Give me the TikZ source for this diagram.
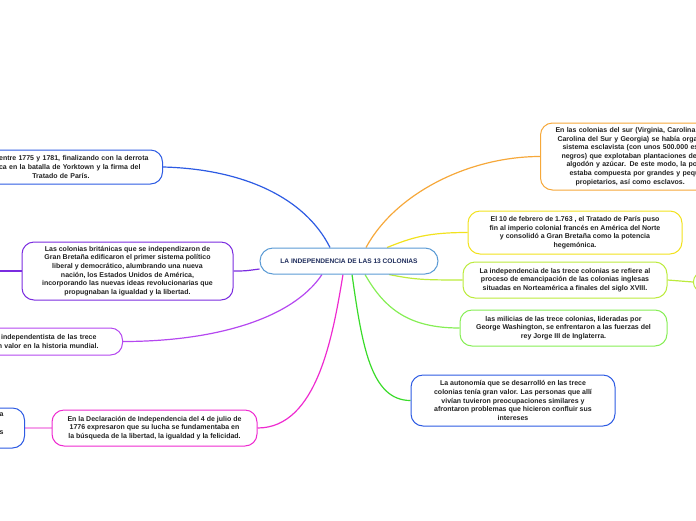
\documentclass[tikz,border=0pt]{standalone}
\usepackage{fontspec}
\setmainfont{Liberation Sans}
\usepackage{tikz}
\usetikzlibrary{positioning, backgrounds, calc}
\definecolor{mapNavy}{HTML}{1F2D5C}
\definecolor{mapText}{HTML}{222222}
\definecolor{rootBlue}{HTML}{5B9BD5}
\definecolor{warBlue}{HTML}{2D5BE3}
\definecolor{libPurple}{HTML}{7B2CE0}
\definecolor{histViolet}{HTML}{B548F0}
\definecolor{declMagenta}{HTML}{EE2AD0}
\definecolor{declPink}{HTML}{F5A3EA}
\definecolor{southOrange}{HTML}{F6A83A}
\definecolor{parisYellow}{HTML}{F2E21E}
\definecolor{emanLime}{HTML}{BCEB3C}
\definecolor{miliGreen}{HTML}{86EE55}
\definecolor{autoGreen}{HTML}{3ADB2A}
\newcommand{\leaffont}{\fontsize{7}{8.6}\selectfont\bfseries}
\newcommand{\padr}[1]{\hspace*{#1}\mbox{}}

\begin{document}
\begin{tikzpicture}[x=1pt, y=-1pt,
  leaf/.style={draw, line width=1pt, rounded corners=12pt, fill=white,
    text=mapText, font=\leaffont, inner sep=0pt, align=center},
  link/.style={line width=1.2pt}]
  \useasboundingbox (0,0) rectangle (696,520);

  % central topic
  \node[leaf, draw=rootBlue, rounded corners=13pt, minimum width=178pt, minimum height=26pt,
    text=mapNavy, font=\fontsize{6.6}{8}\selectfont\bfseries] (root) at (349,261)
    {LA INDEPENDENCIA DE LAS 13 COLONIAS};

  % left side
  \node[leaf, draw=warBlue, anchor=east, align=right, text width=180pt, inner xsep=14pt,
    minimum height=34pt] (war) at (163,167)
    {entre 1775 y 1781, finalizando con la derrota\\
     ica en la batalla de Yorktown y la firma del\padr{8pt}\\
     Tratado de París.\padr{59pt}};
  \node[leaf, draw=libPurple, minimum width=211pt, minimum height=58pt] (liberal) at (127.5,271)
    {Las colonias británicas que se independizaron de\\
     Gran Bretaña edificaron el primer sistema político\\
     liberal y democrático, alumbrando una nueva\\
     nación, los Estados Unidos de América,\\
     incorporando las nuevas ideas revolucionarias que\\
     propugnaban la igualdad y la libertad.};
  \coordinate (liberalout) at (-5,271);
  \node[leaf, draw=histViolet, anchor=east, align=right, text width=150pt, inner xsep=24pt,
    minimum height=27pt] (history) at (123,341.5)
    {independentista de las trece\padr{2pt}\\
     n valor en la historia mundial.};
  \node[leaf, draw=declMagenta, minimum width=205pt, minimum height=36pt] (decl) at (154.5,428)
    {En la Declaración de Independencia del 4 de julio de\\
     1776 expresaron que su lucha se fundamentaba en\\
     la búsqueda de la libertad, la igualdad y la felicidad.};
  \node[leaf, draw=warBlue, anchor=east, align=right, text width=40pt, inner xsep=21pt,
    minimum height=40pt] (declnote) at (25,428)
    {a\\ \mbox{}\\ s\\ \mbox{}};

  % right side
  \node[leaf, draw=southOrange, anchor=west, align=left, text width=190pt, inner xsep=15pt,
    minimum height=67pt] (south) at (540,156.5)
    {En las colonias del sur (Virginia, Carolina d\\
     \hspace*{2pt}Carolina del Sur y Georgia) se había organ\\
     \hspace*{7pt}sistema esclavista (con unos 500.000 es\\
     \hspace*{6pt}negros) que explotaban plantaciones de\\
     \hspace*{11pt}algodón y azúcar. De este modo, la pobl\\
     \hspace*{14pt}estaba compuesta por grandes y peque\\
     \hspace*{20pt}propietarios, así como esclavos.};
  \node[leaf, draw=parisYellow, minimum width=214pt, minimum height=43pt] (paris) at (575,232.5)
    {El 10 de febrero de 1.763 , el Tratado de París puso\\
     fin al imperio colonial francés en América del Norte\\
     y consolidó a Gran Bretaña como la potencia\\
     hegemónica.};
  \node[leaf, draw=emanLime, minimum width=204pt, minimum height=36pt] (eman) at (565,280)
    {La independencia de las trece colonias se refiere al\\
     proceso de emancipación de las colonias inglesas\\
     situadas en Norteamérica a finales del siglo XVIII.};
  \node[leaf, draw=emanLime, anchor=west, rounded corners=9pt, minimum width=40pt,
    minimum height=19pt] (emannote) at (693,282) {};
  \node[leaf, draw=miliGreen, minimum width=207pt, minimum height=36pt] (militia) at (563.5,328)
    {las milicias de las trece colonias, lideradas por\\
     George Washington, se enfrentaron a las fuerzas del\\
     rey Jorge III de Inglaterra.};
  \node[leaf, draw=warBlue, minimum width=204pt, minimum height=51pt] (autonomy) at (513,400.5)
    {La autonomía que se desarrolló en las trece\\
     colonias tenía gran valor. Las personas que allí\\
     vivían tuvieron preocupaciones similares y\\
     afrontaron problemas que hicieron confluir sus\\
     intereses};

  \begin{scope}[on background layer]
    \draw[link, warBlue] ([xshift=-19pt]root.north) .. controls +(-25,-50) and +(80,2) .. (war.east);
    \draw[link, libPurple] ([yshift=-8pt]root.west) .. controls +(-15,2) and +(12,0) .. (liberal.east);
    \draw[link, libPurple] (liberal.west) -- (liberalout);
    \draw[link, histViolet] ([xshift=-27pt]root.south) .. controls +(-30,45) and +(90,0) .. (history.east);
    \draw[link, declMagenta] ([xshift=-6pt]root.south) .. controls +(-10,60) and +(60,0) .. (decl.east);
    \draw[link, declPink] (decl.west) -- (declnote.east);
    \draw[link, southOrange] ([xshift=17pt]root.north) .. controls +(30,-55) and +(-70,0) .. (south.west);
    \draw[link, parisYellow] ([xshift=38pt]root.north) .. controls +(25,-10) and +(-40,0) .. (paris.west);
    \draw[link, emanLime] ([xshift=40pt]root.south) .. controls +(25,5) and +(-40,0) .. (eman.west);
    \draw[link, emanLime] (eman.east) -- (emannote.west);
    \draw[link, miliGreen] ([xshift=16pt]root.south) .. controls +(20,35) and +(-50,0) .. (militia.west);
    \draw[link, autoGreen] ([xshift=3pt]root.south) .. controls +(10,70) and +(-40,0) .. (autonomy.west);
  \end{scope}
\end{tikzpicture}
\end{document}
